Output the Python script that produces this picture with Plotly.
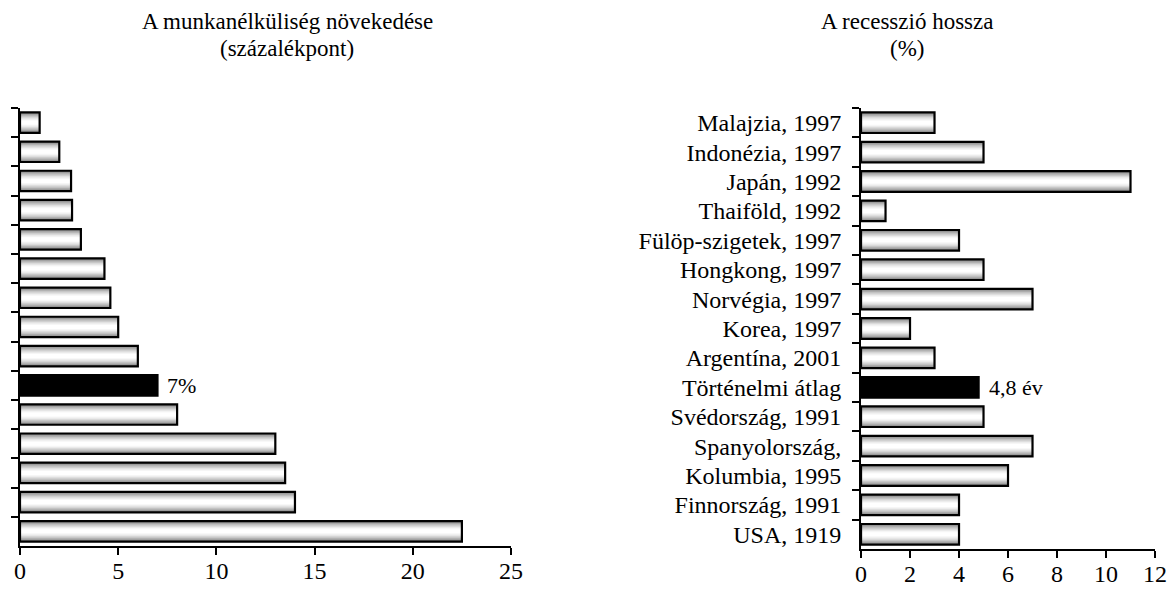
import plotly.graph_objects as go

# left panel: unemployment increase (percentage points), top to bottom (unlabelled rows)
left_cats = ["r%02d" % i for i in range(1, 16)]
left_vals = [1, 2, 2.6, 2.65, 3.1, 4.3, 4.6, 5, 6, 7, 8, 13, 13.5, 14, 22.5]
left_text = ["", "", "", "", "", "", "", "", "", "7%", "", "", "", "", ""]

# right panel: length of recession, top to bottom
right_cats = ["Malajzia, 1997", "Indonézia, 1997", "Japán, 1992", "Thaiföld, 1992",
              "Fülöp-szigetek, 1997", "Hongkong, 1997", "Norvégia, 1997", "Korea, 1997",
              "Argentína, 2001", "Történelmi átlag", "Svédország, 1991", "Spanyolország,",
              "Kolumbia, 1995", "Finnország, 1991", "USA, 1919"]
right_vals = [3, 5, 11, 1, 4, 5, 7, 2, 3, 4.8, 5, 7, 6, 4, 4]
right_text = ["", "", "", "", "", "", "", "", "", "4,8 év", "", "", "", "", ""]

avg_idx = 9
FONT = "Liberation Serif"

# layered bars fake the cylinder shading of the original
layer_widths = [0.7, 0.62, 0.54, 0.46, 0.38, 0.30, 0.22, 0.14]
layer_colors = ['#858585', '#9c9c9c', '#b2b2b2', '#c7c7c7', '#dadada', '#eaeaea', '#f6f6f6', '#ffffff']

fig = go.Figure()


def add_bars(cats, vals, text, xa, ya):
    for w, c in zip(layer_widths, layer_colors):
        cols = [c] * len(cats)
        cols[avg_idx] = 'black'
        fig.add_trace(go.Bar(
            y=cats, x=vals, orientation='h', width=w,
            marker=dict(color=cols, line=dict(width=0)),
            xaxis=xa, yaxis=ya, showlegend=False, hoverinfo='skip'
        ))
    # outline
    fig.add_trace(go.Bar(
        y=cats, x=vals, orientation='h', width=0.7,
        marker=dict(color='rgba(0,0,0,0)', line=dict(color='black', width=2.2)),
        xaxis=xa, yaxis=ya, showlegend=False
    ))
    # value label next to the highlighted bar
    for c, v, t in zip(cats, vals, text):
        if t:
            fig.add_annotation(x=v, y=c, xref=xa, yref=ya, text=t, showarrow=False,
                               xanchor='left', xshift=8,
                               font=dict(family=FONT, size=22, color='black'))


add_bars(left_cats, left_vals, left_text, 'x', 'y')
add_bars(right_cats, right_vals, right_text, 'x2', 'y2')

xcommon = dict(showline=True, linecolor='black', linewidth=2, ticks='outside',
               ticklen=7, tickwidth=2, tickcolor='black', showgrid=False, zeroline=False,
               automargin=False, ticklabeloverflow='allow',
               tickfont=dict(family=FONT, size=24, color='black'), ticklabelstandoff=-5)
ycommon = dict(showline=True, linecolor='black', linewidth=2, ticks='outside',
               ticklen=7, tickwidth=2, tickcolor='black', showgrid=False, automargin=False,
               tickson='boundaries', type='category', range=[14.5, -0.5])

# page body adds an 8px offset, so the figure is sized to fit inside the window
W, H = 1160, 579
plot_l, plot_r, plot_t, plot_b = 12, 13, 100, 38
plot_w = W - plot_l - plot_r
plot_h = H - plot_t - plot_b

fig.update_layout(
    width=W, height=H,
    margin=dict(l=plot_l, r=plot_r, t=plot_t, b=plot_b, autoexpand=False),
    paper_bgcolor='white', plot_bgcolor='white',
    barmode='overlay',
    font=dict(family=FONT, color='black'),
    xaxis=dict(domain=[0, 0.4326], range=[0, 25], dtick=5, anchor='y', **xcommon),
    yaxis=dict(domain=[0.007, 1], anchor='x', showticklabels=False, **ycommon),
    xaxis2=dict(domain=[0.741, 1], range=[0, 12], dtick=2, anchor='y2', **xcommon),
    yaxis2=dict(domain=[0, 1], anchor='x2', ticklabelstandoff=13,
                tickfont=dict(family=FONT, size=24, color='black'), **ycommon),
)

# titles, one annotation per line, positioned by pixel centre
title_lines = [("A munkanélküliség növekedése", 279, 14), ("(százalékpont)", 279, 40),
               ("A recesszió hossza", 899, 14), ("(%)", 899, 40)]
for t, px, py in title_lines:
    fig.add_annotation(
        text=t, x=(px - plot_l) / plot_w, y=(H - plot_b - py) / plot_h,
        xref='paper', yref='paper', xanchor='center', yanchor='middle',
        showarrow=False, font=dict(family=FONT, size=23, color='black')
    )

fig.write_html("out.html")
